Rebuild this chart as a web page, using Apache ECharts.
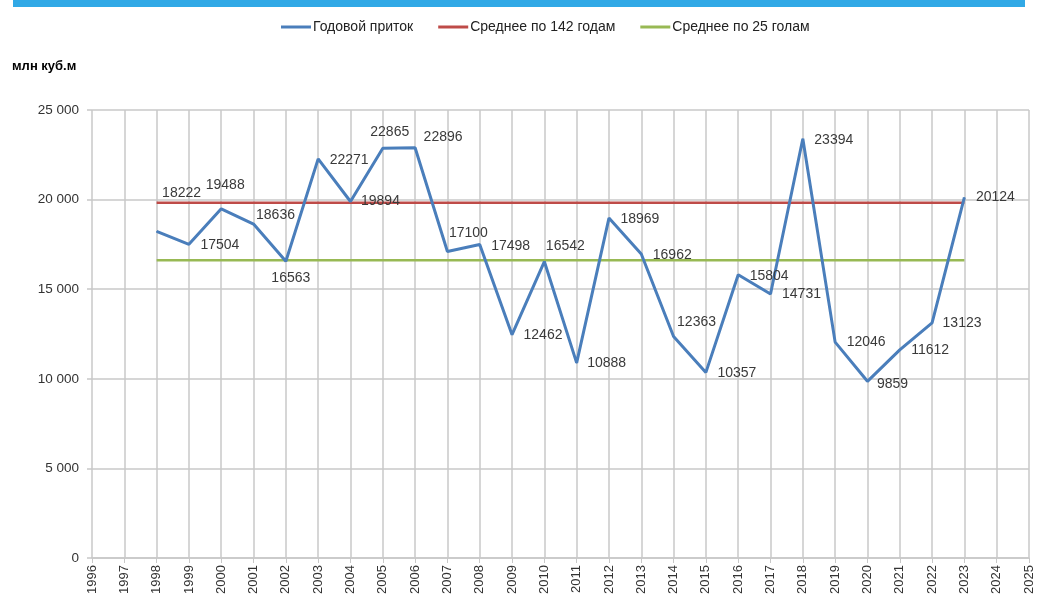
<!DOCTYPE html>
<html>
<head>
<meta charset="utf-8">
<script src="https://cdn.jsdelivr.net/npm/echarts@6/dist/echarts.min.js"></script>
<style>
  html, body { margin: 0; padding: 0; background: #fff; }
  #chart { width: 1037px; height: 597px; }
</style>
</head>
<body>
<div id="chart"></div>
<script>
// годы по оси X
var years = ['1996','1997','1998','1999','2000','2001','2002','2003','2004','2005','2006','2007','2008','2009','2010',
             '2011','2012','2013','2014','2015','2016','2017','2018','2019','2020','2021','2022','2023','2024','2025'];
// годовой приток, млн куб.м
var inflow = [null, null, 18222, 17504, 19488, 18636, 16563, 22271, 19894, 22865, 22896, 17100, 17498, 12462, 16542,
              10888, 18969, 16962, 12363, 10357, 15804, 14731, 23394, 12046, 9859, 11612, 13123, 20124, null, null];
// средние значения (читаются с графика)
var mean142 = 19830;
var mean25 = 16620;
var yTicks = [0, 5000, 10000, 15000, 20000, 25000];

// сдвиги подписей [dx, dy] относительно позиции справа от точки
var labelShift = [null, null, [-6,-38], [0,1], [-27,-24], [-9,-9], [-26,17], [0,1], [-1,0], [-24,-16], [-3,-11],
                  [-10,-18], [0,2], [0,0], [-10,-15], [-1,0], [0,1], [0,1], [-8,-14], [0,1], [0,1], [0,0],
                  [0,1], [0,0], [-2,3], [0,0], [-1,0], [0,0], null, null];

var flat = function (v) {
    return years.map(function (y, i) { return inflow[i] == null ? null : v; });
};

var inflowData = inflow.map(function (v, i) {
    if (v == null) return null;
    return { value: v, label: { offset: labelShift[i] } };
});

var chart = echarts.init(document.getElementById('chart'));
var option = {
    animation: false,
    textStyle: { fontFamily: 'Liberation Sans, Arial, sans-serif' },
    graphic: [
        { type: 'rect', left: 13, top: 0, shape: { width: 1012, height: 7 }, style: { fill: '#31a9e6' } },
        { type: 'text', left: 12, top: 60,
          style: { text: 'млн куб.м', font: 'bold 13px "Liberation Sans", Arial, sans-serif', fill: '#000' } }
    ],
    legend: {
        top: 15,
        left: 276,
        itemWidth: 30,
        itemHeight: 3,
        itemGap: 25,
        icon: 'rect',
        textStyle: { fontSize: 14, color: '#222', padding: [0, 0, 0, -3] },
        data: ['Годовой приток', 'Среднее по 142 годам', 'Среднее по 25 голам']
    },
    grid: { left: 92, right: 8, top: 110, bottom: 39, containLabel: false },
    xAxis: {
        type: 'category',
        data: years,
        boundaryGap: false,
        axisLine: { show: true, lineStyle: { color: '#c8c8c8', width: 1.5 } },
        axisTick: { show: true, length: 5, alignWithLabel: true, lineStyle: { color: '#c8c8c8' } },
        axisLabel: { rotate: 90, fontSize: 13, color: '#333', margin: 7, interval: 0 },
        splitLine: { show: true, lineStyle: { color: '#c8c8c8', width: 1.5 } }
    },
    yAxis: {
        type: 'value',
        min: 0,
        max: 25000,
        interval: 5000,
        axisLine: { show: false },
        axisTick: { show: true, length: 5, lineStyle: { color: '#c8c8c8', width: 1.5 } },
        axisLabel: {
            fontSize: 13.5, color: '#333', margin: 13,
            formatter: function (v) { return v >= 1000 ? String(v).replace(/(\d)(?=(\d{3})$)/, '$1 ') : String(v); }
        },
        splitLine: { show: true, lineStyle: { color: '#c8c8c8', width: 1.5 } }
    },
    series: [
        {
            name: 'Среднее по 142 годам',
            type: 'line',
            data: flat(mean142),
            symbol: 'none',
            lineStyle: { color: '#be4b48', width: 2.5 },
            itemStyle: { color: '#be4b48' }
        },
        {
            name: 'Среднее по 25 голам',
            type: 'line',
            data: flat(mean25),
            symbol: 'none',
            lineStyle: { color: '#98b954', width: 2.5 },
            itemStyle: { color: '#98b954' }
        },
        {
            name: 'Годовой приток',
            type: 'line',
            data: inflowData,
            symbol: 'circle',
            symbolSize: 1,
            z: 5,
            lineStyle: { color: '#4a7ebb', width: 3 },
            itemStyle: { color: '#4a7ebb' },
            label: {
                show: true,
                position: 'right',
                distance: 11,
                fontSize: 14,
                color: '#3a3a3a',
                formatter: '{c}'
            }
        }
    ]
};
chart.setOption(option);
</script>
</body>
</html>
